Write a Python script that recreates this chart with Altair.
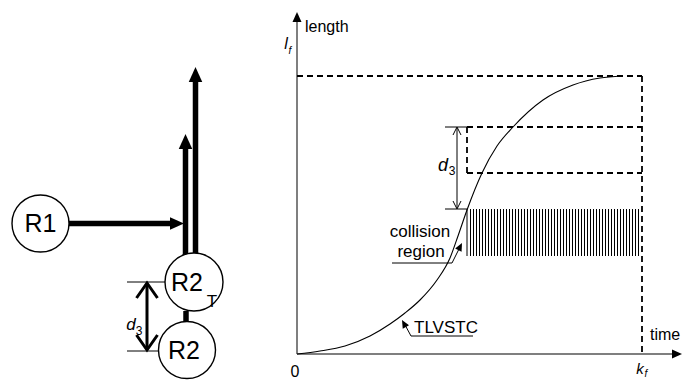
import altair as alt
import pandas as pd
import numpy as np

W, H = 691, 380
FONT = "Liberation Sans"

# ---------------- TLVSTC curve (picture units: time -> x, length -> y) ----
CURVE_T = [297, 320, 345, 370, 390, 405, 420, 437, 450, 458, 467, 482, 497, 513, 543, 573, 600, 622]
CURVE_L = [354, 351, 346, 336, 324, 313, 300, 280, 258, 236, 210, 173, 146, 127, 100, 85, 78, 76]

# ---------------- segments: [x1, y1, x2, y2] ----------------
AXIS_SEGS = [[297, 354, 297, 20], [297, 354, 674, 354]]
DASH_SEGS = [[297, 76, 642, 76], [642, 76, 642, 354],
             [467, 127, 642, 127], [467, 173, 642, 173], [467, 127, 467, 173]]
THIN_SEGS = [[445, 127, 467, 127], [445, 209, 467, 209], [457, 128, 457, 208],
             [467, 209, 467, 256],
             [473, 336, 411, 336], [411, 336, 404, 323],
             [392, 263, 452, 263], [452, 263, 460, 247],
             [127, 282, 167, 282], [127, 351, 160, 351]]
THICK_SEGS = [[69, 223.5, 172, 223.5], [185.5, 255, 185.5, 149], [195.5, 253, 195.5, 82],
              [186, 311, 186, 323]]
MID_SEGS = [[147, 285, 147, 348]]

# hatched collision region
HATCH_LEFT, HATCH_RIGHT, HATCH_TOP, HATCH_BOTTOM, HATCH_STEP = 467, 642, 209, 256, 3

# ---------------- filled arrowheads: x, y (tip), length, angle -------------
HEAD_X = [297, 682, 184, 185.5, 195.5, 402, 462]
HEAD_Y = [12, 354, 223.5, 134, 67, 320, 243]
HEAD_LEN = [10, 10, 14, 15, 15, 8, 8]
HEAD_ANG = [270, 0, 0, 270, 270, 241, 297]

# open arrowheads
VTHIN_X = [457, 457]
VTHIN_Y = [127, 209]
VTHIN_ANG = [270, 90]
VTHICK_X = [147, 147]
VTHICK_Y = [283, 350]
VTHICK_ANG = [270, 90]

# ---------------- robots (circles) ----------------
ROBOT_X = [40.5, 194, 187]
ROBOT_Y = [223.5, 282, 350]
ROBOT_R = [28.5, 29, 28.5]

# ---------------- texts ----------------
TXT_REG = ["length", "collision", "region", "TLVSTC", "time", "0"]
TXT_REG_X = [305, 420, 421, 414, 650, 295]
TXT_REG_Y = [27, 232, 252, 328, 335, 372]
TXT_REG_S = [16, 17, 17, 17, 16, 16]
TXT_REG_A = ["left", "center", "center", "left", "left", "center"]

TXT_IT = ["l", "d", "k", "d"]
TXT_IT_X = [286, 443, 640, 131]
TXT_IT_Y = [44, 166, 369, 325]
TXT_IT_S = [16, 18, 15, 17]
TXT_SUB = ["f", "3", "f", "3"]
TXT_SUB_X = [290, 452, 646, 139]
TXT_SUB_Y = [51, 171, 374, 331]
TXT_SUB_S = [10, 12, 10, 12]
TXT_SUB_IT = [True, False, True, False]

TXT_BIG = ["R1", "R2", "R2"]
TXT_BIG_X = [40.5, 187, 184]
TXT_BIG_Y = [223.5, 283, 351]
TXT_T = ["T"]
TXT_T_X = [212]
TXT_T_Y = [302]

xs = alt.Scale(domain=[0, W], nice=False, zero=False)
ys = alt.Scale(domain=[0, H], nice=False, zero=False, reverse=True)


def X(f):
    return alt.X(f, type="quantitative", scale=xs, axis=None)


def Y(f):
    return alt.Y(f, type="quantitative", scale=ys, axis=None)


def segs(lst, color, width, dash=None):
    df = pd.DataFrame(lst, columns=["x1", "y1", "x2", "y2"])
    kw = dict(color=color, strokeWidth=width)
    if dash:
        kw["strokeDash"] = dash
    return alt.Chart(df).mark_rule(**kw).encode(
        x=X("x1"), y=Y("y1"), x2="x2:Q", y2="y2:Q")


layers = []

# hatch
hx = np.arange(HATCH_LEFT + 3, HATCH_RIGHT - 1, HATCH_STEP) + 0.5
hatch_df = pd.DataFrame({"x1": hx, "y1": HATCH_TOP, "x2": hx, "y2": HATCH_BOTTOM})
layers.append(alt.Chart(hatch_df).mark_rule(color="black", strokeWidth=1).encode(
    x=X("x1"), y=Y("y1"), x2="x2:Q", y2="y2:Q"))

layers.append(segs(AXIS_SEGS, "#555555", 1.5))
layers.append(segs(DASH_SEGS, "black", 1.8, [6, 4]))
layers.append(segs(THIN_SEGS, "black", 1))
layers.append(segs(THICK_SEGS, "black", 5.5))
layers.append(segs(MID_SEGS, "black", 3))

# curve
curve_df = pd.DataFrame({"t": CURVE_T, "l": CURVE_L})
layers.append(alt.Chart(curve_df).mark_line(color="black", strokeWidth=1.1,
                                             interpolate="monotone").encode(
    x=X("t"), y=Y("l"), order="t:Q"))

# filled arrowheads
HEAD_PATH = "M0,0L-1,-0.45L-1,0.45Z"
head_df = pd.DataFrame({"x": HEAD_X, "y": HEAD_Y,
                        "size": [(2 * l) ** 2 for l in HEAD_LEN], "angle": HEAD_ANG})
layers.append(alt.Chart(head_df).mark_point(shape=HEAD_PATH, filled=True, color="black",
                                            opacity=1, strokeWidth=0).encode(
    x=X("x"), y=Y("y"), size=alt.Size("size:Q", scale=None),
    angle=alt.Angle("angle:Q", scale=None)))

# open arrowheads
V_PATH = "M-1,-0.5L0,0L-1,0.5"
vthin = pd.DataFrame({"x": VTHIN_X, "y": VTHIN_Y, "angle": VTHIN_ANG})
layers.append(alt.Chart(vthin).mark_point(shape=V_PATH, filled=False, color="black",
                                          opacity=1, strokeWidth=1, size=256).encode(
    x=X("x"), y=Y("y"), angle=alt.Angle("angle:Q", scale=None)))
vthick = pd.DataFrame({"x": VTHICK_X, "y": VTHICK_Y, "angle": VTHICK_ANG})
layers.append(alt.Chart(vthick).mark_point(shape="M-1,-0.7L0,0L-1,0.7", filled=False,
                                           color="black", opacity=1, strokeWidth=3,
                                           size=900).encode(
    x=X("x"), y=Y("y"), angle=alt.Angle("angle:Q", scale=None)))

# robots
rob_df = pd.DataFrame({"x": ROBOT_X, "y": ROBOT_Y, "size": [(2 * r) ** 2 for r in ROBOT_R]})
layers.append(alt.Chart(rob_df).mark_point(shape="circle", filled=True, fill="white",
                                           stroke="black", strokeWidth=1.4,
                                           opacity=1, fillOpacity=1, strokeOpacity=1).encode(
    x=X("x"), y=Y("y"), size=alt.Size("size:Q", scale=None)))

# texts
reg_df = pd.DataFrame({"x": TXT_REG_X, "y": TXT_REG_Y, "t": TXT_REG, "s": TXT_REG_S,
                       "a": TXT_REG_A})
for al in ["left", "center"]:
    sub = reg_df[reg_df.a == al]
    layers.append(alt.Chart(sub).mark_text(align=al, baseline="middle", font=FONT,
                                           color="black").encode(
        x=X("x"), y=Y("y"), text="t:N", size=alt.Size("s:Q", scale=None)))

it_df = pd.DataFrame({"x": TXT_IT_X, "y": TXT_IT_Y, "t": TXT_IT, "s": TXT_IT_S})
layers.append(alt.Chart(it_df).mark_text(align="center", baseline="middle", font=FONT,
                                         fontStyle="italic", color="black").encode(
    x=X("x"), y=Y("y"), text="t:N", size=alt.Size("s:Q", scale=None)))

sub_df = pd.DataFrame({"x": TXT_SUB_X, "y": TXT_SUB_Y, "t": TXT_SUB, "s": TXT_SUB_S,
                       "i": TXT_SUB_IT})
layers.append(alt.Chart(sub_df[sub_df.i]).mark_text(align="center", baseline="middle",
                                                    font=FONT, fontStyle="italic",
                                                    color="black").encode(
    x=X("x"), y=Y("y"), text="t:N", size=alt.Size("s:Q", scale=None)))
layers.append(alt.Chart(sub_df[~sub_df.i]).mark_text(align="center", baseline="middle",
                                                     font=FONT, color="black").encode(
    x=X("x"), y=Y("y"), text="t:N", size=alt.Size("s:Q", scale=None)))

big_df = pd.DataFrame({"x": TXT_BIG_X, "y": TXT_BIG_Y, "t": TXT_BIG})
layers.append(alt.Chart(big_df).mark_text(align="center", baseline="middle", font=FONT,
                                          fontSize=25, color="black").encode(
    x=X("x"), y=Y("y"), text="t:N"))
t_df = pd.DataFrame({"x": TXT_T_X, "y": TXT_T_Y, "t": TXT_T})
layers.append(alt.Chart(t_df).mark_text(align="center", baseline="middle", font=FONT,
                                        fontSize=17, color="black").encode(
    x=X("x"), y=Y("y"), text="t:N"))

chart = alt.layer(*layers).properties(
    width=W, height=H, padding=0, autosize=alt.AutoSizeParams(type="none"),
    background="white"
).configure_view(stroke=None)

chart.save("out.html", embed_options={"renderer": "svg", "actions": False})
